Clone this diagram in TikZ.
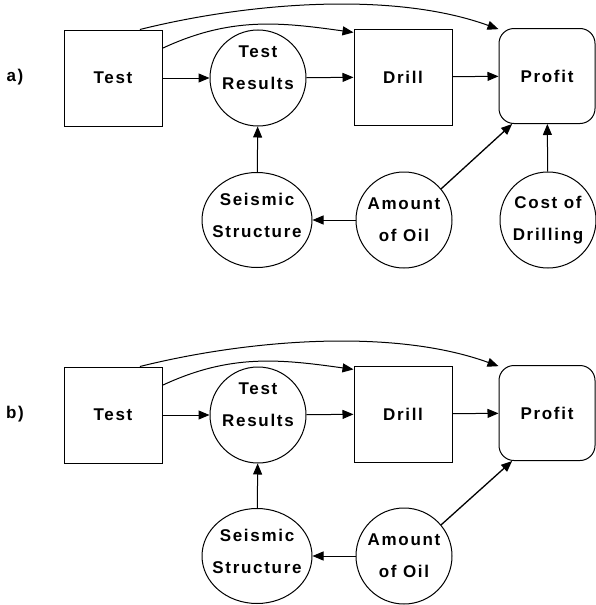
\documentclass[tikz,border=0pt]{standalone}
\usepackage{fontspec}
\newfontfamily\diagfont{Liberation Sans}[LetterSpace=10]
\usetikzlibrary{arrows.meta}
\usetikzlibrary{shapes.geometric}

\tikzset{
    decision/.style={draw, rectangle, minimum width=98pt, minimum height=96pt, line width=1pt},
    value/.style={draw, rectangle, rounded corners=15pt, minimum width=96pt, minimum height=95pt, line width=1pt},
    chance/.style={draw, circle, minimum size=96pt, inner sep=0pt, align=center, line width=1pt},
    chancewide/.style={draw, ellipse, minimum width=110pt, minimum height=95pt, inner sep=0pt, inner xsep=-12pt, align=center, line width=1pt},
}

\begin{document}
\begin{tikzpicture}[x=1pt, y=1pt, line width=1pt, >={Triangle[length=11pt,width=9pt]},
    font={\diagfont\bfseries\fontsize{17pt}{32pt}\selectfont}]
                \useasboundingbox (0,0) rectangle (596,-605);
                % a)
                \node (labA) at (15,-77) {a)};
                \node[decision] (testA) at (113,-78) {Test};
                \node[chance, text depth=20pt] (resA) at (258,-78) {Test\\Results};
                \node[decision] (drillA) at (403,-77) {Drill};
                \node[value] (profitA) at (547,-76) {Profit};
                \node[chancewide, text depth=9pt] (seisA) at (257,-220) {Seismic\\Structure};
                \node[chance] (oilA) at (404,-220) {Amount\\of Oil};
                \node[chance] (costA) at (548,-220) {Cost of\\Drilling};
                \draw[->] (testA) -- (resA);
                \draw[->] (resA) -- (drillA);
                \draw[->] (drillA) -- (profitA);
                \draw[->] (testA.31) to[out=25, in=172] (drillA.138);
                \draw[->] (testA.61) to[out=14, in=160, looseness=0.8] (profitA.136);
                \draw[->] (seisA) -- (resA);
                \draw[->] (oilA) -- (seisA);
                \draw[->, line width=1.3pt] (oilA.40) -- (profitA.234);
                \draw[->] (costA) -- (profitA);
                % b)
                \node (labB) at (15,-414) {b)};
                \node[decision] (testB) at (113,-415) {Test};
                \node[chance, text depth=20pt] (resB) at (258,-415) {Test\\Results};
                \node[decision] (drillB) at (403,-414) {Drill};
                \node[value] (profitB) at (547,-413) {Profit};
                \node[chancewide, text depth=9pt] (seisB) at (257,-556) {Seismic\\Structure};
                \node[chance] (oilB) at (404,-556) {Amount\\of Oil};
                \draw[->] (testB) -- (resB);
                \draw[->] (resB) -- (drillB);
                \draw[->] (drillB) -- (profitB);
                \draw[->] (testB.31) to[out=25, in=172] (drillB.138);
                \draw[->] (testB.61) to[out=14, in=160, looseness=0.8] (profitB.136);
                \draw[->] (seisB) -- (resB);
                \draw[->] (oilB) -- (seisB);
                \draw[->, line width=1.3pt] (oilB.40) -- (profitB.234);
            \end{tikzpicture}
\end{document}
